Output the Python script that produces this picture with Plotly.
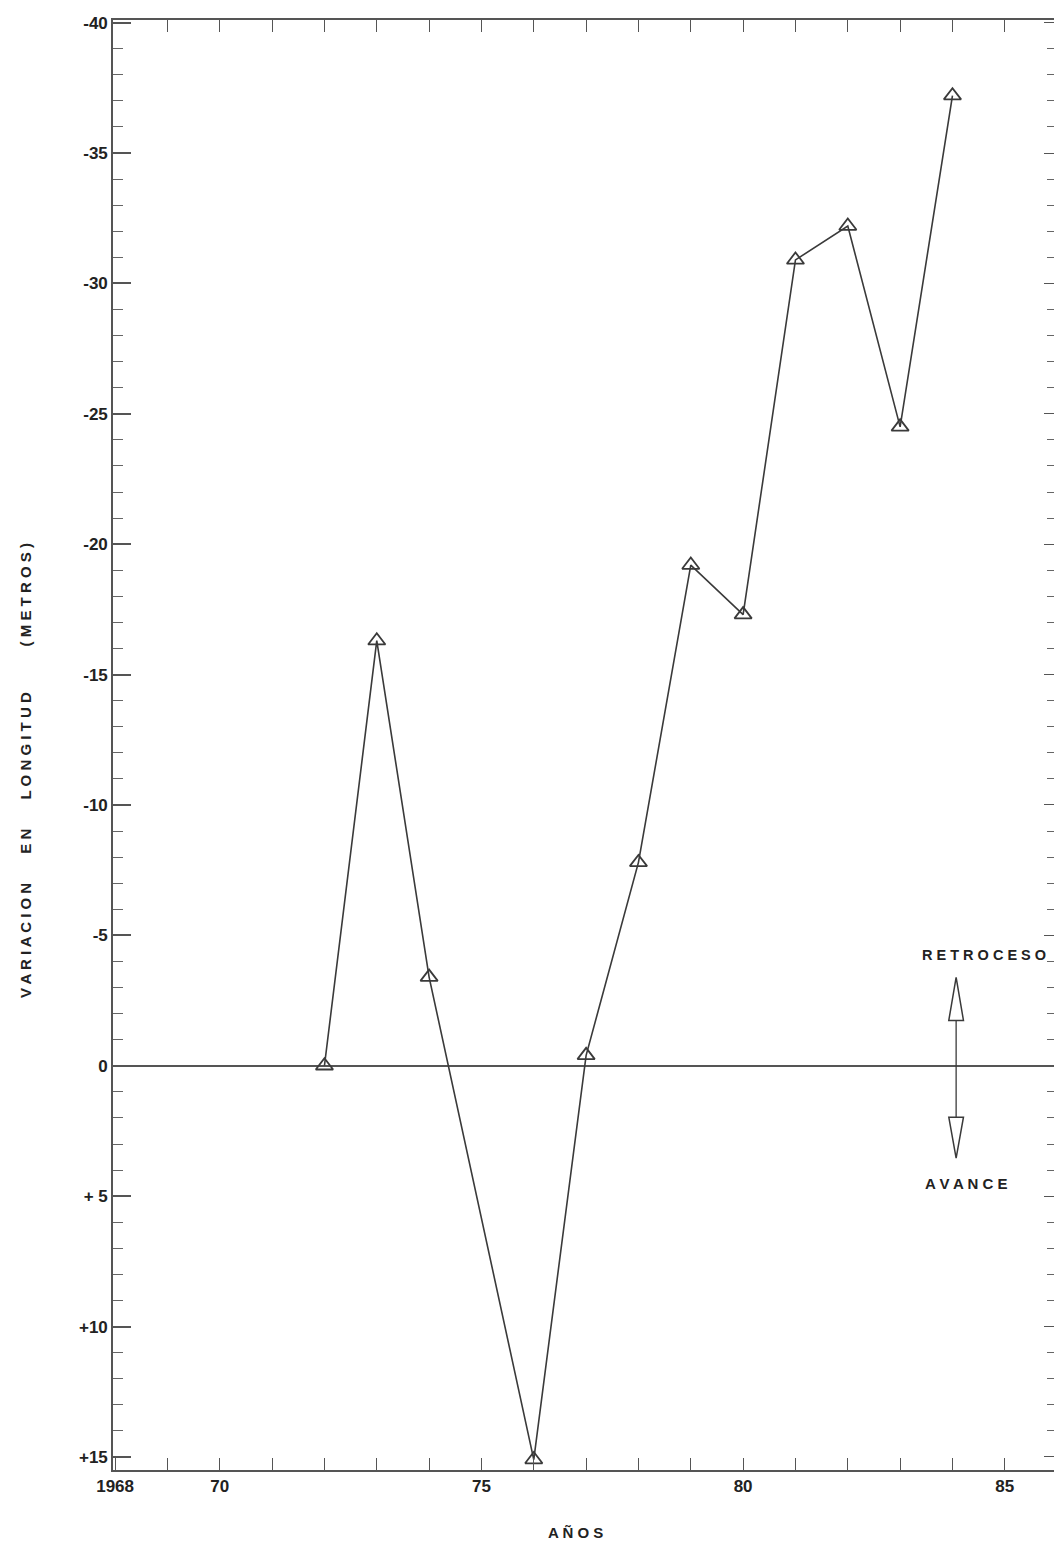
import plotly.graph_objects as go

# ---- data ----
years = [1972, 1973, 1974, 1976, 1977, 1978, 1979, 1980, 1981, 1982, 1983, 1984]
variation_m = [0.0, -16.3, -3.4, 15.1, -0.4, -7.8, -19.2, -17.3, -30.9, -32.2, -24.5, -37.2]

x_tick_vals = list(range(1968, 1986))
x_tick_text = ["1968", "", "70", "", "", "", "", "75", "", "", "", "", "80", "", "", "", "", "85"]
y_tick_vals = [-40, -35, -30, -25, -20, -15, -10, -5, 0, 5, 10, 15]
y_tick_text = ["-40", "-35", "-30", "-25", "-20", "-15", "-10", "-5", "0", "+ 5", "+10", "+15"]

SP = "\u00a0"
y_title = ("V A R I A C I O N" + SP * 7 + "E N" + SP * 7 + "L O N G I T U D"
           + SP * 11 + "( M E T R O S )")
x_title = "A Ñ O S"

X_RANGE = [1967.96, 1985.94]
Y_RANGE = [15.5, -40.1]

INK = "#3a3a3a"
TXT = "#222222"
AX = "#555555"
FONT = "Liberation Sans"

fig = go.Figure()
fig.add_trace(go.Scatter(
    x=years, y=variation_m, mode="lines+markers",
    line=dict(color=INK, width=1.6),
    marker=dict(symbol="triangle-up-open", size=15, color=INK, line=dict(width=1.8, color=INK)),
    showlegend=False, hoverinfo="x+y",
))
# invisible companion trace so the top / right frame axes get drawn
fig.add_trace(go.Scatter(
    x=years, y=variation_m, xaxis="x2", yaxis="y2", mode="lines",
    opacity=0, showlegend=False, hoverinfo="skip",
))

# arrow (RETROCESO / AVANCE) indicator near 1984
ax_x = 1984.07
hw = 0.14
shapes = [
    dict(type="line", xref="x", yref="y", x0=ax_x, x1=ax_x, y0=-1.74, y1=1.97,
         line=dict(color=INK, width=1.3)),
    dict(type="path", xref="x", yref="y",
         path=f"M {ax_x-hw},-1.74 L {ax_x},-3.39 L {ax_x+hw},-1.74 Z",
         line=dict(color=INK, width=1.5), fillcolor="white"),
    dict(type="path", xref="x", yref="y",
         path=f"M {ax_x-hw},1.97 L {ax_x},3.54 L {ax_x+hw},1.97 Z",
         line=dict(color=INK, width=1.5), fillcolor="white"),
]

annotations = [
    dict(text=y_title, xref="paper", yref="paper", x=-0.0935, y=0.482,
         textangle=-90, showarrow=False, xanchor="center", yanchor="middle",
         font=dict(family=FONT, size=15, color=TXT, weight="bold")),
    dict(text=x_title, xref="paper", yref="paper", x=0.491, y=-0.0428,
         showarrow=False, xanchor="center", yanchor="middle",
         font=dict(family=FONT, size=15, color=TXT, weight="bold")),
    dict(text="R E T R O C E S O", xref="x", yref="y", x=1984.6, y=-4.23,
         showarrow=False, xanchor="center", yanchor="middle",
         font=dict(family=FONT, size=14.5, color=TXT, weight="bold")),
    dict(text="A V A N C E", xref="x", yref="y", x=1984.27, y=4.5,
         showarrow=False, xanchor="center", yanchor="middle",
         font=dict(family=FONT, size=15, color=TXT, weight="bold")),
]

tick_font = dict(family=FONT, size=17, color=TXT, weight="bold")

fig.update_layout(
    width=1054, height=1546,
    margin=dict(l=113, r=0, t=20, b=76),
    paper_bgcolor="white", plot_bgcolor="white",
    shapes=shapes, annotations=annotations,
    xaxis=dict(
        range=X_RANGE, showgrid=False, zeroline=False,
        showline=True, linecolor=AX, linewidth=1.6,
        tickmode="array", tickvals=x_tick_vals, ticktext=x_tick_text,
        ticks="inside", ticklen=12, tickwidth=1.3, tickcolor=AX,
        tickfont=tick_font,
    ),
    yaxis=dict(
        range=Y_RANGE, showgrid=False,
        zeroline=True, zerolinecolor=AX, zerolinewidth=1.6,
        showline=True, linecolor=AX, linewidth=1.6,
        tickmode="array", tickvals=y_tick_vals, ticktext=y_tick_text,
        ticks="inside", ticklen=18, tickwidth=1.5, tickcolor=AX,
        minor=dict(tickmode="linear", tick0=0, dtick=1, ticks="inside",
                   ticklen=10, tickwidth=1.2, tickcolor="#666666"),
        tickfont=tick_font,
    ),
    xaxis2=dict(
        range=X_RANGE, overlaying="x", side="top", showgrid=False, zeroline=False,
        showline=True, linecolor=AX, linewidth=1.6,
        tickmode="array", tickvals=x_tick_vals[1:], ticks="inside", ticklen=12,
        tickwidth=1.3, tickcolor=AX, showticklabels=False,
    ),
    yaxis2=dict(
        range=Y_RANGE, overlaying="y", side="right", showgrid=False, zeroline=False,
        showline=True, linecolor=AX, linewidth=1.6,
        tickmode="array", tickvals=y_tick_vals, ticks="inside", ticklen=10,
        tickwidth=1.3, tickcolor=AX, showticklabels=False,
        minor=dict(tickmode="linear", tick0=0, dtick=1, ticks="inside",
                   ticklen=7, tickwidth=1.1, tickcolor="#666666"),
    ),
)

fig.write_html("out.html")
